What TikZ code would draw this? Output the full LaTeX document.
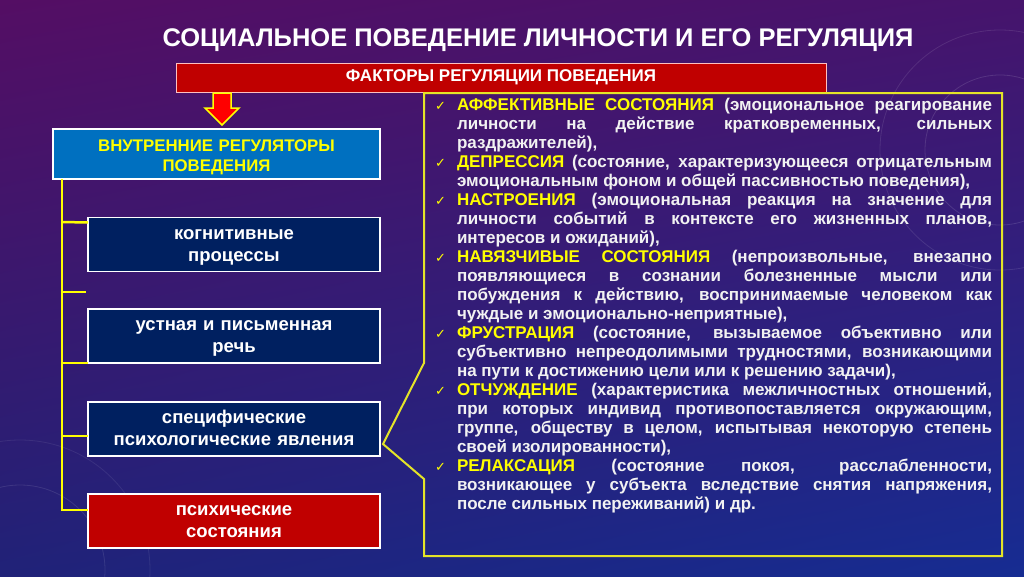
\documentclass[tikz,border=0pt]{standalone}
\usepackage{fontspec}
\setmainfont{Liberation Sans}
\newfontfamily\symfont{DejaVu Sans}
\usetikzlibrary{shadings}

\definecolor{bgtl}{RGB}{84,14,100}
\definecolor{bgtr}{RGB}{70,20,108}
\definecolor{bgbl}{RGB}{32,34,120}
\definecolor{bgbr}{RGB}{22,44,146}
\definecolor{darkred}{RGB}{192,0,0}
\definecolor{regblue}{RGB}{0,112,192}
\definecolor{navy}{RGB}{0,32,96}
\definecolor{keyyellow}{RGB}{255,255,0}
\definecolor{lineyellow}{RGB}{228,228,40}
\definecolor{softwhite}{RGB}{242,242,242}

% one item of the list on the right
\newcommand{\factor}[2]{\par\noindent\llap{\textcolor{keyyellow}{\symfont\fontsize{13}{13}\selectfont ✓}\hspace{11pt}}\textcolor{keyyellow}{#1} #2}

\begin{document}
\begin{tikzpicture}[x=1pt, y=-1pt,
  every node/.style={inner sep=0pt, outer sep=0pt},
  heading/.style={text=white, font=\bfseries\fontsize{25.5}{28}\selectfont},
  banner/.style={fill=darkred, draw=red!25!white, line width=1pt,
    minimum width=650pt, minimum height=29pt, text=white,
    font=\bfseries\fontsize{17}{20}\selectfont},
  regbox/.style={fill=regblue, draw=white, line width=1.2pt,
    minimum width=327pt, minimum height=50pt, text width=320pt, align=center,
    text=keyyellow, font=\bfseries\fontsize{16.8}{20}\selectfont,
    execute at begin node={\rule{0pt}{19pt}},
    execute at end node={\rule[-5pt]{0pt}{5pt}}},
  lvl/.style={draw=white, line width=1.2pt,
    minimum width=292pt, minimum height=54pt, text width=288pt, align=center,
    text=white, font=\bfseries\fontsize{18.5}{22}\selectfont,
    execute at begin node={\rule{0pt}{17pt}},
    execute at end node={\rule[-6pt]{0pt}{6pt}}},
  conn/.style={draw=keyyellow, line width=2.5pt}]

  % background
  \shade[upper left=bgtl, upper right=bgtr, lower left=bgbl, lower right=bgbr]
    (0,0) rectangle (1024,576);
  \useasboundingbox (0,0) rectangle (1024,576);
  \draw[white, opacity=0.12, line width=0.8pt] (1000,150) circle[radius=75];
  \draw[white, opacity=0.10, line width=0.8pt] (1000,150) circle[radius=120];
  \draw[white, opacity=0.10, line width=0.8pt] (20,570) circle[radius=85];
  \draw[white, opacity=0.08, line width=0.8pt] (20,570) circle[radius=130];

  \node[heading] (title) at (538,40) {СОЦИАЛЬНОЕ ПОВЕДЕНИЕ ЛИЧНОСТИ И ЕГО РЕГУЛЯЦИЯ};
  \node[banner] (factors) at (501,77.5) {ФАКТОРЫ РЕГУЛЯЦИИ ПОВЕДЕНИЯ};

  \node[regbox] (inner) at (216.5,154) {ВНУТРЕННИЕ РЕГУЛЯТОРЫ\\ПОВЕДЕНИЯ};
  \node[lvl, fill=navy] (cogn) at (234,244.5) {когнитивные\\процессы};
  \node[lvl, fill=navy] (speech) at (234,336) {устная и письменная\\речь};
  \node[lvl, fill=navy] (phen) at (234,429) {специфические\\психологические явления};
  \node[lvl, fill=darkred] (states) at (234,521) {психические\\состояния};

  % block arrow under the banner
  \coordinate (arr) at (222,93);
  \draw[fill=red, draw=keyyellow, line width=1.5pt, line join=miter]
    (arr) ++(-9,0) -- ++(18,0) -- ++(0,15) -- ++(8,0) -- ++(-17,17)
    -- ++(-17,-17) -- ++(8,0) -- cycle;

  % yellow tree on the left
  \coordinate (trunk) at ([xshift=9pt]inner.south west);
  \draw[conn] (trunk) |- ([yshift=-16pt]states.north west);
  \draw[conn] (trunk |- 0,222) -- ([yshift=-5pt]cogn.north west);
  \draw[conn] (trunk |- 0,292) -- ++(24,0);
  \draw[conn] (trunk |- speech.south) -- (speech.south west);
  \draw[conn] (trunk |- 0,436) -- ([yshift=-7pt]phen.west);

  % frame of the list, pointing at the third box
  \coordinate (tip) at ([xshift=3pt, yshift=-15pt]phen.east);
  \draw[draw=lineyellow, line width=2pt, line join=miter]
    (424,93) -- (1002,93) -- (1002,556) -- (424,556) -- (424,479)
    -- (tip) -- (424,363) -- cycle;

  \node[anchor=north west, text width=535pt, align=justify, text=softwhite,
    font=\bfseries\fontsize{17}{19}\selectfont] (list) at (457,91.5) {%
    \hyphenpenalty=10000 \exhyphenpenalty=10000
    \factor{АФФЕКТИВНЫЕ СОСТОЯНИЯ}{(эмоциональное реагирование\linebreak личности на действие кратковременных, сильных\linebreak раздражителей),}
    \factor{ДЕПРЕССИЯ}{(состояние, характеризующееся отрицательным\linebreak эмоциональным фоном и общей пассивностью поведения),}
    \factor{НАСТРОЕНИЯ}{(эмоциональная реакция на значение для\linebreak личности событий в контексте его жизненных планов,\linebreak интересов и ожиданий),}
    \factor{НАВЯЗЧИВЫЕ СОСТОЯНИЯ}{(непроизвольные, внезапно\linebreak появляющиеся в сознании болезненные мысли или\linebreak побуждения к действию, воспринимаемые человеком как\linebreak чуждые и эмоционально-неприятные),}
    \factor{ФРУСТРАЦИЯ}{(состояние, вызываемое объективно или\linebreak субъективно непреодолимыми трудностями, возникающими\linebreak на пути к достижению цели или к решению задачи),}
    \factor{ОТЧУЖДЕНИЕ}{(характеристика межличностных отношений,\linebreak при которых индивид противопоставляется окружающим,\linebreak группе, обществу в целом, испытывая некоторую степень\linebreak своей изолированности),}
    \factor{РЕЛАКСАЦИЯ}{(состояние покоя, расслабленности,\linebreak возникающее у субъекта вследствие снятия напряжения,\linebreak после сильных переживаний) и др.}
  };
\end{tikzpicture}
\end{document}
